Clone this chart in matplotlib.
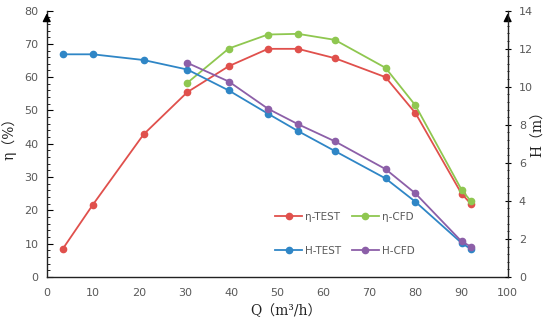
import matplotlib
matplotlib.use("Agg")
from matplotlib import pyplot as plt
from matplotlib.ticker import MultipleLocator

# flow rate Q (m3/h)
q_test = [3.5, 10, 21, 30.5, 39.5, 48, 54.5, 62.5, 73.5, 80, 90, 92]
q_cfd = [30.5, 39.5, 48, 54.5, 62.5, 73.5, 80, 90, 92]

# efficiency (%)
eta_test = [8.5, 21.7, 42.8, 55.5, 63.3, 68.5, 68.5, 65.7, 60.0, 49.2, 25.0, 22.0]
eta_cfd = [58.3, 68.6, 72.8, 73.0, 71.2, 62.8, 51.5, 26.2, 22.8]

# head (m)
h_test = [11.7, 11.7, 11.4, 10.9, 9.8, 8.58, 7.67, 6.62, 5.18, 3.95, 1.79, 1.47]
h_cfd = [11.25, 10.27, 8.84, 8.03, 7.13, 5.67, 4.39, 1.87, 1.6]

red = "#e0504c"
green = "#8fc750"
blue = "#2f86c6"
purple = "#8c5fa8"
grey = "#595959"

fig = plt.figure(figsize=(5.5, 3.29), dpi=100)
ax = fig.add_axes([0.085, 0.158, 0.838, 0.81])
ax2 = ax.twinx()

l1, = ax.plot(q_test, eta_test, color=red, marker="o", ms=4.5, lw=1.3, label="η-TEST")
l2, = ax.plot(q_cfd, eta_cfd, color=green, marker="o", ms=4.5, lw=1.3, label="η-CFD")
l3, = ax2.plot(q_test, h_test, color=blue, marker="o", ms=4.5, lw=1.3, label="H-TEST")
l4, = ax2.plot(q_cfd, h_cfd, color=purple, marker="o", ms=4.5, lw=1.3, label="H-CFD")

ax.set_xlim(0, 100)
ax.set_ylim(0, 80)
ax2.set_ylim(0, 14)
ax.xaxis.set_major_locator(MultipleLocator(10))
ax.yaxis.set_major_locator(MultipleLocator(10))
ax.yaxis.set_minor_locator(MultipleLocator(2))
ax2.yaxis.set_major_locator(MultipleLocator(2))
ax2.yaxis.set_minor_locator(MultipleLocator(0.4))

for a in (ax, ax2):
    a.spines["top"].set_visible(False)
    for s in a.spines.values():
        s.set_color("#222222")
        s.set_linewidth(1.0)
ax.spines["right"].set_visible(False)
ax2.spines["left"].set_visible(False)
ax2.spines["bottom"].set_visible(False)

ax.tick_params(axis="x", length=0, pad=8, labelsize=8, labelcolor=grey)
ax.tick_params(axis="y", which="major", direction="in", length=4, labelsize=8, labelcolor=grey, pad=6)
ax.tick_params(axis="y", which="minor", direction="in", length=2)
ax2.tick_params(axis="y", which="major", direction="inout", length=4, labelsize=8, labelcolor=grey, pad=6)
ax2.tick_params(axis="y", which="minor", direction="inout", length=2)

# arrows on top of both y axes
for xa in (0, 1):
    ax.annotate("", xy=(xa, 1.0), xytext=(xa, 0.95), xycoords="axes fraction",
                arrowprops=dict(arrowstyle="-|>", color="black", lw=1, mutation_scale=12),
                annotation_clip=False)

lab_font = ["DejaVu Serif", "Noto Sans CJK SC"]
ax.set_xlabel("Q（m³/h）", family=lab_font, fontsize=10, color="#222222")
ax.xaxis.set_label_coords(0.52, -0.1)
ax.set_ylabel("η（%）", family=lab_font, fontsize=10, color="#222222")
ax.yaxis.set_label_coords(-0.065, 0.53)
ax2.set_ylabel("H（m）", family=lab_font, fontsize=10, color="#222222")
ax2.yaxis.set_label_coords(1.05, 0.55)

ax.legend(handles=[l1, l3, l2, l4], ncol=2, frameon=False, fontsize=7.5,
          loc="lower left", bbox_to_anchor=(0.475, 0.045), handlelength=2.6,
          labelspacing=2.3, columnspacing=1.0, handletextpad=0.3,
          labelcolor=grey)

plt.savefig("out.png", dpi=100)
